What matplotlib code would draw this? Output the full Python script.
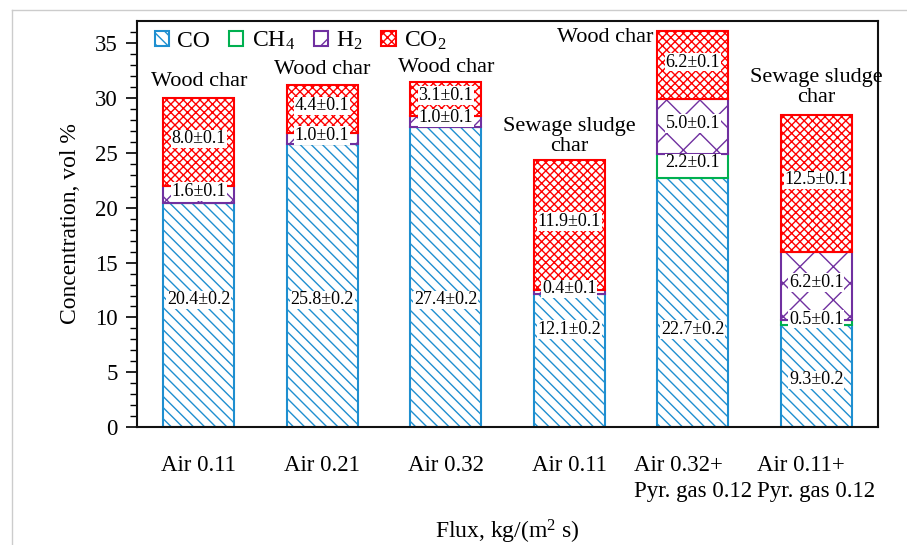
import matplotlib
matplotlib.use("Agg")
import matplotlib.pyplot as plt
from matplotlib.lines import Line2D
import numpy as np

plt.rcParams['font.family'] = ['Liberation Serif', 'DejaVu Serif']
plt.rcParams['mathtext.fontset'] = 'custom'
plt.rcParams['mathtext.rm'] = 'Liberation Serif'
plt.rcParams['mathtext.it'] = 'Liberation Serif:italic'
plt.rcParams['hatch.linewidth'] = 1.0

# Gas composition per run, vol %
categories = ["Air 0.11", "Air 0.21", "Air 0.32", "Air 0.11",
              "Air 0.32+\nPyr. gas 0.12", "Air 0.11+\nPyr. gas 0.12"]
co = [20.4, 25.8, 27.4, 12.1, 22.7, 9.3]
ch4 = [0.0, 0.0, 0.0, 0.0, 2.2, 0.5]
h2 = [1.6, 1.0, 1.0, 0.4, 5.0, 6.2]
co2 = [8.0, 4.4, 3.1, 11.9, 6.2, 12.5]
co_err = [0.2, 0.2, 0.2, 0.2, 0.2, 0.2]
ch4_err = [0.1, 0.1, 0.1, 0.1, 0.1, 0.1]
h2_err = [0.1, 0.1, 0.1, 0.1, 0.1, 0.1]
co2_err = [0.1, 0.1, 0.1, 0.1, 0.1, 0.1]
char_type = ["Wood char", "Wood char", "Wood char", "Sewage sludge\nchar",
             "Wood char", "Sewage sludge\nchar"]

# Placement of the CO value labels inside the bars
co_label_y = [11.6, 11.6, 11.6, 8.9, 8.9, 4.3]
# Gap between the top of each stack and the centre of its char label
char_label_gap = [1.55, 1.4, 1.35, 2.1, 0.0, 2.45]

series = [
    ("CO", co, co_err, "#1f8fd0", "\\\\\\"),
    ("CH$_4$", ch4, ch4_err, "#00b050", ""),
    ("H$_2$", h2, h2_err, "#7030a0", "x"),
    ("CO$_2$", co2, co2_err, "#ff0000", "xxxx"),
]

fig = plt.figure(figsize=(9.07, 5.45), dpi=100)
ax = fig.add_axes([0.151, 0.2165, 0.817, 0.745])

x = np.arange(len(categories))
width = 0.575
bottom = np.zeros(len(categories))
handles = []
for i, (name, vals, errs, color, hatch) in enumerate(series):
    vals = np.array(vals)
    bars = ax.bar(x, vals, width, bottom=bottom, facecolor="white",
                  edgecolor=color, hatch=hatch, linewidth=1.5, label=name,
                  zorder=2)
    handles.append(bars)
    for j in range(len(x)):
        if vals[j] <= 0:
            continue
        if i == 0:
            ly = co_label_y[j]
        else:
            ly = bottom[j] + vals[j] / 2 + 0.3
        ax.text(x[j], ly, f"{vals[j]:.1f}\u00b1{errs[j]:.1f}", ha="center",
                va="center", fontsize=13, zorder=4,
                bbox=dict(facecolor="white", edgecolor="none", pad=0.5))
    bottom = bottom + vals

totals = bottom
# Char type above each stack
for j in range(len(x)):
    if j == 4:
        ax.text(x[j] - width / 2 - 0.03, totals[j] - 0.6, char_type[j],
                ha="right", va="center", fontsize=16)
    else:
        ax.text(x[j], totals[j] + char_label_gap[j], char_type[j],
                ha="center", va="center", fontsize=16, linespacing=1.05)

ax.set_xlim(-0.5, 5.5)
ax.set_ylim(0, 37.05)
ax.set_yticks(np.arange(0, 36, 5))
ax.set_yticks(np.arange(0, 37, 1), minor=True)
ax.tick_params(axis="y", which="major", direction="out", length=8, width=1.2,
               labelsize=16.5, pad=6)
ax.tick_params(axis="y", which="minor", direction="out", length=5, width=1.0)
ax.set_xticks(x)
ax.set_xticklabels(categories)
ax.tick_params(axis="x", length=0, labelsize=16.5, pad=20)
for lab in ax.get_xticklabels():
    lab.set_multialignment("left")
    lab.set_linespacing(1.3)

for sp in ax.spines.values():
    sp.set_linewidth(1.5)
    sp.set_color("#111111")

ax.set_ylabel("Concentration, vol %", fontsize=17, labelpad=10)
ax.set_xlabel("Flux, kg/(m$^2$ s)", fontsize=17, labelpad=12)

ax.legend(handles=handles, loc="upper left", bbox_to_anchor=(0.018, 0.99),
          ncol=4, frameon=False, fontsize=17, handlelength=0.6,
          handleheight=0.6, handletextpad=0.35, columnspacing=0.8,
          borderaxespad=0.0, borderpad=0.2)

# Thin page border
fig.add_artist(Line2D([12 / 907, 12 / 907], [0, 1 - 10 / 545],
                      color="#cccccc", linewidth=1.0))
fig.add_artist(Line2D([12 / 907, 1], [1 - 10 / 545, 1 - 10 / 545],
                      color="#cccccc", linewidth=1.0))

fig.savefig("out.png", dpi=100)
